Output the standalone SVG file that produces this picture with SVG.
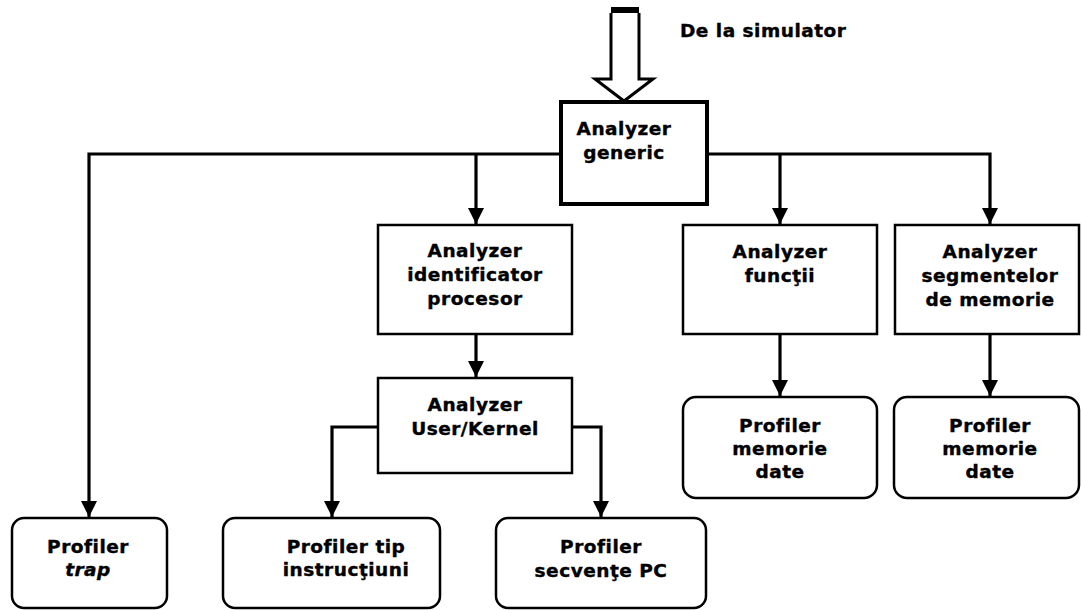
<svg xmlns="http://www.w3.org/2000/svg" width="1081" height="610" viewBox="0 0 1081 610">
  <style>
    .box { fill: #fff; stroke: #000; stroke-width: 2.5; }
    .main { fill: #fff; stroke: #000; stroke-width: 4; }
    .wire { fill: none; stroke: #000; stroke-width: 3.2; }
    text { font-family: "DejaVu Sans", Verdana, sans-serif; font-weight: bold; font-size: 18.5px; letter-spacing: 0.5px; fill: #000; stroke: #000; stroke-width: 0.4; text-anchor: middle; }
  </style>
  <defs>
    <marker id="arr" markerUnits="userSpaceOnUse" markerWidth="18" markerHeight="16" refX="16" refY="8" orient="auto">
      <path d="M0,0 L16,8 L0,16 Z" fill="#000"/>
    </marker>
  </defs>
  <rect width="1081" height="610" fill="#fff"/>

  <!-- input from simulator -->
  <g id="input">
    <rect x="611" y="7" width="28" height="6" fill="#000"/>
    <path d="M611,18 H639" stroke="#000" stroke-width="2.5"/>
    <path d="M611,13 V79 H595 L624,101 L653,79 H639 V13" fill="#fff" stroke="#000" stroke-width="3" stroke-linejoin="miter"/>
    <text x="680" y="37" style="text-anchor:start">De la simulator</text>
  </g>

  <!-- connectors -->
  <g id="connectors">
    <path class="wire" d="M561,154 H89 V517" marker-end="url(#arr)"/>
    <path class="wire" d="M707,154 H990 V224" marker-end="url(#arr)"/>
    <path class="wire" d="M476,154 V224" marker-end="url(#arr)"/>
    <path class="wire" d="M780,154 V224" marker-end="url(#arr)"/>
    <path class="wire" d="M476,334 V377" marker-end="url(#arr)"/>
    <path class="wire" d="M780,334 V396" marker-end="url(#arr)"/>
    <path class="wire" d="M990,334 V396" marker-end="url(#arr)"/>
    <path class="wire" d="M378,427 H332 V517" marker-end="url(#arr)"/>
    <path class="wire" d="M572,427 H601 V517" marker-end="url(#arr)"/>
  </g>

  <g id="analyzer-generic">
    <rect class="main" x="561" y="102" width="146" height="102"/>
    <text x="624" y="135">Analyzer</text>
    <text x="624" y="159">generic</text>
  </g>

  <g id="analyzer-identificator">
    <rect class="box" x="378" y="225" width="194" height="109"/>
    <text x="475" y="257">Analyzer</text>
    <text x="475" y="281">identificator</text>
    <text x="475" y="305">procesor</text>
  </g>

  <g id="analyzer-functii">
    <rect class="box" x="683" y="225" width="194" height="109"/>
    <text x="780" y="258">Analyzer</text>
    <text x="780" y="282">funcţii</text>
  </g>

  <g id="analyzer-segmente">
    <rect class="box" x="895" y="225" width="184" height="109"/>
    <text x="990" y="258">Analyzer</text>
    <text x="990" y="282">segmentelor</text>
    <text x="990" y="306">de memorie</text>
  </g>

  <g id="analyzer-user-kernel">
    <rect class="box" x="378" y="378" width="194" height="95"/>
    <text x="475" y="411">Analyzer</text>
    <text x="475" y="435">User/Kernel</text>
  </g>

  <g id="profiler-memorie-1">
    <rect class="box" x="683" y="397" width="194" height="101" rx="13"/>
    <text x="780" y="432">Profiler</text>
    <text x="780" y="455">memorie</text>
    <text x="780" y="478">date</text>
  </g>

  <g id="profiler-memorie-2">
    <rect class="box" x="894" y="397" width="185" height="101" rx="13"/>
    <text x="990" y="432">Profiler</text>
    <text x="990" y="455">memorie</text>
    <text x="990" y="478">date</text>
  </g>

  <g id="profiler-trap">
    <rect class="box" x="12" y="518" width="155" height="90" rx="12"/>
    <text x="88" y="553">Profiler</text>
    <text x="88" y="576" font-style="italic">trap</text>
  </g>

  <g id="profiler-tip">
    <rect class="box" x="223" y="518" width="217" height="90" rx="12"/>
    <text x="346" y="553">Profiler tip</text>
    <text x="346" y="576">instrucţiuni</text>
  </g>

  <g id="profiler-secvente">
    <rect class="box" x="496" y="518" width="210" height="90" rx="12"/>
    <text x="601" y="553">Profiler</text>
    <text x="601" y="577">secvenţe PC</text>
  </g>
</svg>
